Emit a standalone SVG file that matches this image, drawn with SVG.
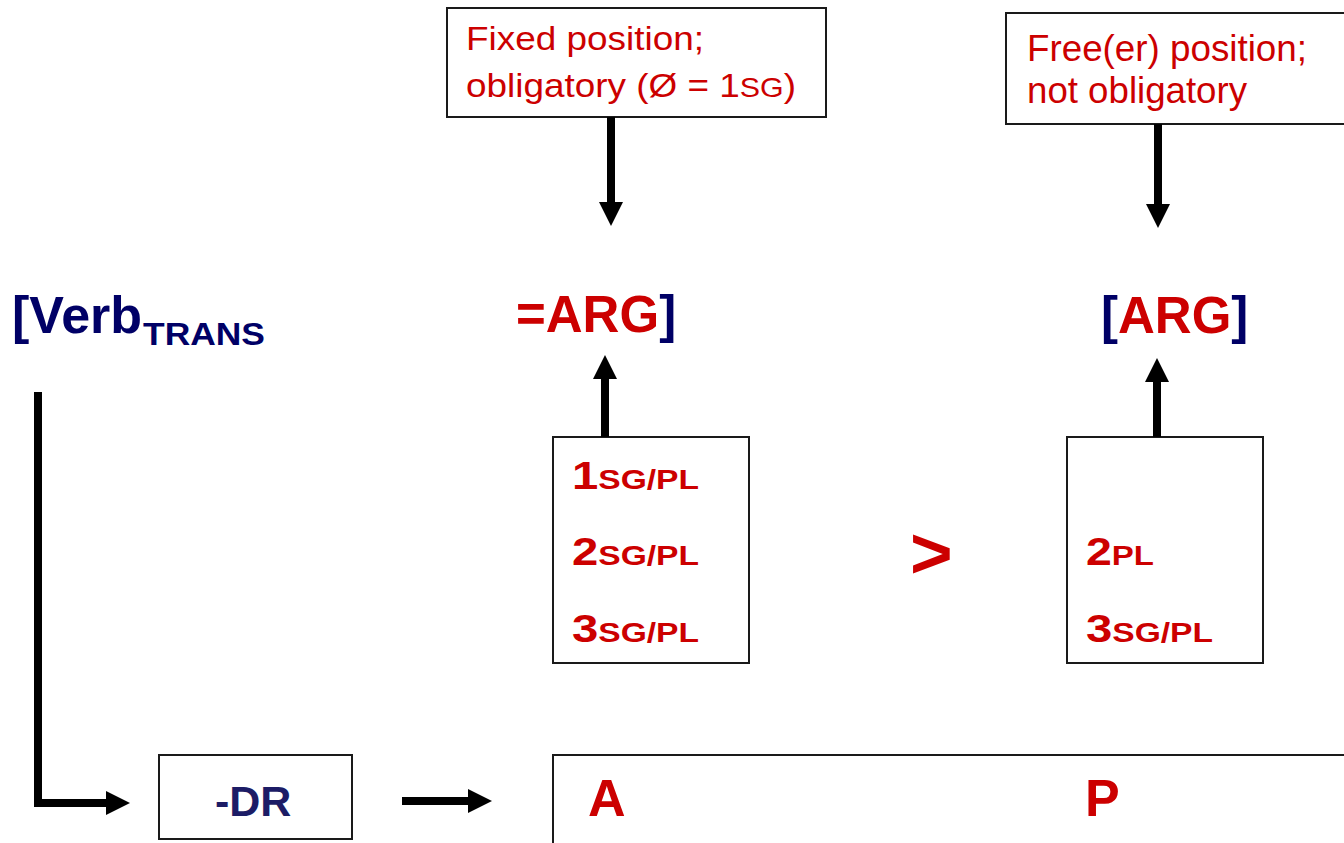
<svg xmlns="http://www.w3.org/2000/svg" width="1344" height="843" viewBox="0 0 1344 843">
  <style>
    .box { fill: #ffffff; stroke: #1a1a1a; stroke-width: 2; }
    .note { font-family: "Liberation Sans", Arial, sans-serif; fill: #CC0000; }
    .bold { font-family: "Liberation Sans", Arial, sans-serif; font-weight: bold; }
    .red { fill: #CC0000; }
    .navy { fill: #000066; }
    .dr { fill: #1C1C66; }
    .conn { fill: none; stroke: #000000; stroke-width: 8; stroke-linejoin: miter; }
  </style>
  <defs>
    <marker id="head" viewBox="0 0 24 24" refX="0" refY="12" markerWidth="24" markerHeight="24" markerUnits="userSpaceOnUse" orient="auto">
      <path d="M0,0 L24,12 L0,24 z" fill="#000000"/>
    </marker>
  </defs>
  <rect width="1344" height="843" fill="#ffffff"/>

  <g id="note-fixed">
    <rect class="box" x="447" y="8" width="379" height="109"/>
    <text class="note" font-size="34" x="466" y="50" textLength="238" lengthAdjust="spacingAndGlyphs">Fixed position;</text>
    <text class="note" font-size="34" x="466" y="97" textLength="330" lengthAdjust="spacingAndGlyphs">obligatory (Ø = 1<tspan font-size="28">SG</tspan>)</text>
  </g>

  <g id="note-free">
    <rect class="box" x="1006" y="13" width="360" height="111"/>
    <text class="note" font-size="36" x="1027" y="61" textLength="280" lengthAdjust="spacingAndGlyphs">Free(er) position;</text>
    <text class="note" font-size="36" x="1027" y="103" textLength="220" lengthAdjust="spacingAndGlyphs">not obligatory</text>
  </g>

  <g id="verb">
    <text class="bold navy" x="12" y="333" font-size="52">[Verb</text>
    <text class="bold navy" x="143" y="345" font-size="31" textLength="122" lengthAdjust="spacingAndGlyphs">TRANS</text>
  </g>

  <g id="arg-fixed">
    <text class="bold red" x="516" y="332" font-size="51">=ARG<tspan class="navy">]</tspan></text>
  </g>

  <g id="arg-free">
    <text class="bold" x="1101" y="333" font-size="51"><tspan class="navy">[</tspan><tspan class="red">ARG</tspan><tspan class="navy">]</tspan></text>
  </g>

  <g id="persons-fixed">
    <rect class="box" x="553" y="437" width="196" height="226"/>
    <text class="bold red" x="572" y="489" font-size="38" textLength="127" lengthAdjust="spacingAndGlyphs">1<tspan font-size="27">SG/PL</tspan></text>
    <text class="bold red" x="572" y="565" font-size="38" textLength="127" lengthAdjust="spacingAndGlyphs">2<tspan font-size="27">SG/PL</tspan></text>
    <text class="bold red" x="572" y="642" font-size="38" textLength="127" lengthAdjust="spacingAndGlyphs">3<tspan font-size="27">SG/PL</tspan></text>
  </g>

  <g id="hierarchy">
    <text class="bold red" x="910" y="578" font-size="73">&gt;</text>
  </g>

  <g id="persons-free">
    <rect class="box" x="1067" y="437" width="196" height="226"/>
    <text class="bold red" x="1086" y="565" font-size="38" textLength="68" lengthAdjust="spacingAndGlyphs">2<tspan font-size="27">PL</tspan></text>
    <text class="bold red" x="1086" y="642" font-size="38" textLength="127" lengthAdjust="spacingAndGlyphs">3<tspan font-size="27">SG/PL</tspan></text>
  </g>

  <g id="dr">
    <rect class="box" x="159" y="755" width="193" height="84"/>
    <text class="bold dr" x="215" y="816" font-size="43">-DR</text>
  </g>

  <g id="roles">
    <rect class="box" x="553" y="755" width="820" height="120"/>
    <text class="bold red" x="588" y="816" font-size="52">A</text>
    <text class="bold red" x="1085" y="816" font-size="52">P</text>
  </g>

  <g id="connectors">
    <path class="conn" d="M611,117 V202" marker-end="url(#head)"/>
    <path class="conn" d="M1158,124 V204" marker-end="url(#head)"/>
    <path class="conn" d="M605,437 V379" marker-end="url(#head)"/>
    <path class="conn" d="M1157,437 V382" marker-end="url(#head)"/>
    <path class="conn" d="M38,392 V803 H106" marker-end="url(#head)"/>
    <path class="conn" d="M402,801 H468" marker-end="url(#head)"/>
  </g>
</svg>
